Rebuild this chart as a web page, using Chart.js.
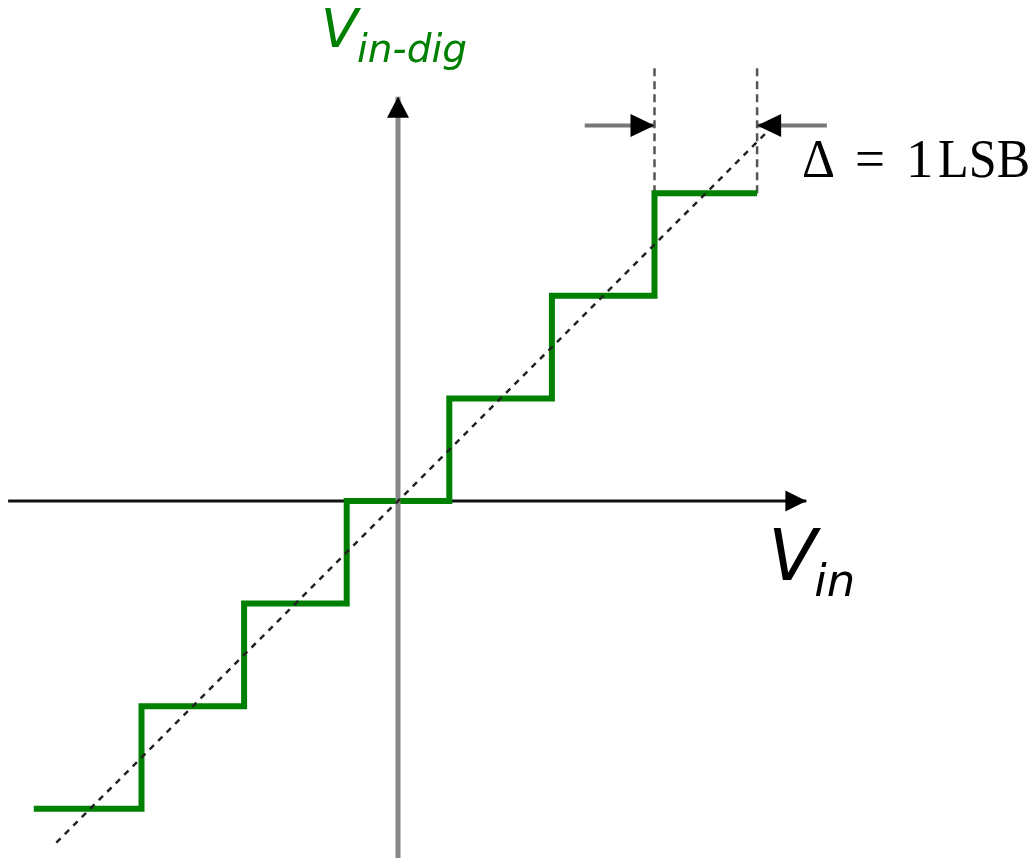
<!DOCTYPE html>
<html>
<head>
<meta charset="utf-8">
<script src="https://cdn.jsdelivr.net/npm/chart.js@4.4.1/dist/chart.umd.min.js"></script>
<style>
  html, body { margin: 0; padding: 0; background: #fff; }
  .chart-wrap { width: 1035px; height: 861px; position: relative; }
</style>
</head>
<body>
<div class="chart-wrap"><canvas id="chart"></canvas></div>
<script>
// everything in LSB units, origin where the two axes cross
const codes = [-3, -2, -1, 0, 1, 2, 3];
const inputRange = [-3.55, 3.5];
const idealRange = [-3.33, 3.68];
const xAxisRange = [-3.8, 3.98];
const yAxisRange = [-3.48, 3.94];
const deltaEdges = [2.5, 3.5];
const deltaTop = 4.22;
const arrowLevel = 3.66;
const arrowShaft = 0.68;

const GREEN = '#008000';
const LSB_PX = 102.6;

// quantizer output: flat treads centred on each code, risers half way between
const stairPoints = [
  { x: inputRange[0], y: codes[0] },
  ...codes.map((c) => ({ x: c, y: c })),
  { x: inputRange[1], y: codes[codes.length - 1] }
];

const idealPoints = idealRange.map((v) => ({ x: v, y: v }));

function segment(x0, y0, x1, y1) {
  return [{ x: x0, y: y0 }, { x: x1, y: y1 }];
}

function drawArrowHead(ctx, x, y, angle, length, width) {
  ctx.save();
  ctx.translate(x, y);
  ctx.rotate(angle);
  ctx.beginPath();
  ctx.moveTo(0, 0);
  ctx.lineTo(-length, -width / 2);
  ctx.lineTo(-length, width / 2);
  ctx.closePath();
  ctx.fillStyle = '#000';
  ctx.fill();
  ctx.restore();
}

const decorations = {
  id: 'decorations',
  afterDatasetsDraw(chart) {
    const { ctx, scales: { x, y } } = chart;
    const px = (v) => x.getPixelForValue(v);
    const py = (v) => y.getPixelForValue(v);

    // arrow heads on the axes and on the 1 LSB marker
    drawArrowHead(ctx, px(xAxisRange[1]), py(0), 0, 21, 21);
    drawArrowHead(ctx, px(0), py(yAxisRange[1]), -Math.PI / 2, 21, 22);
    drawArrowHead(ctx, px(deltaEdges[0]), py(arrowLevel), 0, 24, 23);
    drawArrowHead(ctx, px(deltaEdges[1]), py(arrowLevel), Math.PI, 24, 23);

    ctx.save();
    ctx.textBaseline = 'alphabetic';
    ctx.textAlign = 'left';

    // V_in-dig label
    const topX = px(0) - 77;
    ctx.fillStyle = GREEN;
    ctx.font = 'italic 54px "DejaVu Sans"';
    ctx.fillText('V', topX, 47);
    ctx.font = 'italic 39px "DejaVu Sans"';
    ctx.fillText('in-dig', topX + 36, 62, 118);

    // V_in label
    const inX = px(xAxisRange[1]) - 38;
    const inY = py(0);
    ctx.fillStyle = '#000';
    ctx.font = 'italic 71px "DejaVu Sans"';
    ctx.fillText('V', inX, inY + 79);
    ctx.font = 'italic 45px "DejaVu Sans"';
    ctx.fillText('in', inX + 46, inY + 95);

    // Δ = 1 LSB
    const dX = px(deltaEdges[1]) + 45;
    const dY = py(arrowLevel) + 52;
    ctx.font = '55px "Liberation Serif", "Times New Roman", serif';
    ctx.fillText('Δ', dX, dY, 33);
    ctx.fillText('=', dX + 53, dY, 30);
    ctx.fillText('1', dX + 104, dY);
    ctx.fillText('LSB', dX + 136, dY, 92);
    ctx.restore();
  }
};

const dashedGuide = {
  borderColor: '#555',
  borderWidth: 2.5,
  borderDash: [8, 5],
  pointRadius: 0,
  showLine: true,
  order: 4
};

const arrowShaftStyle = {
  showLine: true,
  borderColor: '#777',
  borderWidth: 4,
  pointRadius: 0,
  order: 5
};

new Chart(document.getElementById('chart'), {
  type: 'scatter',
  data: {
    datasets: [
      {
        label: 'ideal',
        data: idealPoints,
        showLine: true,
        borderColor: '#222',
        borderWidth: 2.5,
        borderDash: [6, 6],
        pointRadius: 0,
        order: 0
      },
      {
        label: 'y axis',
        data: segment(0, yAxisRange[0], 0, yAxisRange[1]),
        showLine: true,
        borderColor: '#888',
        borderWidth: 5,
        pointRadius: 0,
        order: 1
      },
      {
        label: 'quantized',
        data: stairPoints,
        showLine: true,
        stepped: 'middle',
        borderColor: GREEN,
        borderWidth: 6,
        borderJoinStyle: 'miter',
        borderCapStyle: 'butt',
        pointRadius: 0,
        order: 2
      },
      {
        label: 'x axis',
        data: segment(xAxisRange[0], 0, xAxisRange[1], 0),
        showLine: true,
        borderColor: '#111',
        borderWidth: 3,
        pointRadius: 0,
        order: 3
      },
      { label: 'edge lo', data: segment(deltaEdges[0], codes[6], deltaEdges[0], deltaTop), ...dashedGuide },
      { label: 'edge hi', data: segment(deltaEdges[1], codes[6], deltaEdges[1], deltaTop), ...dashedGuide },
      { label: 'arrow lo', data: segment(deltaEdges[0] - arrowShaft, arrowLevel, deltaEdges[0], arrowLevel), ...arrowShaftStyle },
      { label: 'arrow hi', data: segment(deltaEdges[1], arrowLevel, deltaEdges[1] + arrowShaft, arrowLevel), ...arrowShaftStyle }
    ]
  },
  options: {
    responsive: true,
    maintainAspectRatio: false,
    animation: false,
    layout: { padding: 0 },
    plugins: {
      legend: { display: false },
      tooltip: { enabled: false }
    },
    scales: {
      x: { type: 'linear', display: false, min: -398 / LSB_PX, max: (1035 - 398) / LSB_PX },
      y: { type: 'linear', display: false, min: -(861 - 501) / LSB_PX, max: 501 / LSB_PX }
    }
  },
  plugins: [decorations]
});
</script>
</body>
</html>
